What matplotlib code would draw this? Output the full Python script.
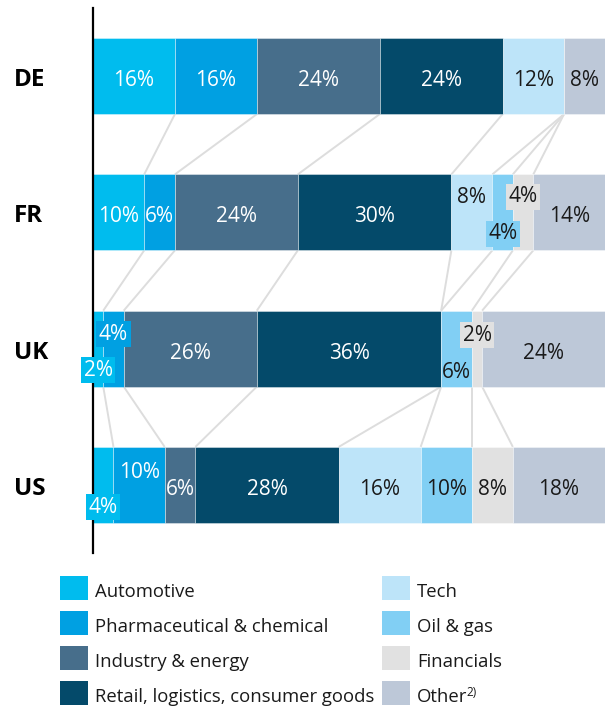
import numpy as np
import matplotlib.pyplot as plt
from matplotlib.patches import Rectangle
from matplotlib.transforms import blended_transform_factory

plt.rcParams['font.family'] = ['Open Sans', 'DejaVu Sans']

countries = ['DE', 'FR', 'UK', 'US']
sectors = ['Automotive', 'Pharmaceutical & chemical', 'Industry & energy',
           'Retail, logistics, consumer goods', 'Tech', 'Oil & gas',
           'Financials', 'Other']
de = [16, 16, 24, 24, 12, 0, 0, 8]
fr = [10, 6, 24, 30, 8, 4, 4, 14]
uk = [2, 4, 26, 36, 0, 6, 2, 24]
us = [4, 10, 6, 28, 16, 10, 8, 18]
shares = np.array([de, fr, uk, us])

colors = ['#00BCEE', '#00A0E2', '#476E8B', '#044A6A',
          '#BDE4F9', '#81CFF4', '#E1E1E1', '#BDC8D8']
txt_colors = ['white'] * 4 + ['#1a1a1a'] * 4

# small segments: label shifted up/down (pixels), some with a box
nudge = {('FR', 4): -19, ('FR', 6): -20, ('FR', 5): 17,
         ('UK', 1): -19, ('UK', 0): 17, ('UK', 5): 19, ('UK', 6): -18,
         ('US', 1): -17, ('US', 0): 18}
boxed = {('FR', 5), ('FR', 6), ('UK', 0), ('UK', 1), ('UK', 6), ('US', 0)}

W, H = 605, 708
fig = plt.figure(figsize=(W / 100, H / 100), dpi=100)
ax = fig.add_axes([93 / W, 1 - 553 / H, 512 / W, 545 / H])
ax.set_xlim(0, 100)
ax.set_ylim(3.5, -0.5)
px = 1 / 136.25  # one pixel in y data units
bh = 76 * px

ypos = np.arange(len(countries))
cum = np.cumsum(shares, axis=1)
left = cum - shares

# connector lines between segment boundaries
for i in range(len(countries) - 1):
    for k in range(len(sectors) - 1):
        ax.plot([cum[i, k], cum[i + 1, k]],
                [ypos[i] + bh / 2, ypos[i + 1] - bh / 2],
                color='#DDDDDD', lw=1.4, zorder=1, solid_capstyle='butt')

for k, s in enumerate(sectors):
    ax.barh(ypos, shares[:, k], left=left[:, k], height=bh, color=colors[k],
            edgecolor=(1, 1, 1, 0.45), linewidth=0.6, zorder=2)

lab_tr = blended_transform_factory(fig.transFigure, ax.transData)
for i, c in enumerate(countries):
    for k in range(len(sectors)):
        v = shares[i, k]
        if v == 0:
            continue
        dy = (2.5 + 7.5 + nudge.get((c, k), 0)) * px
        kw = {}
        if (c, k) in boxed:
            kw['bbox'] = dict(boxstyle='square,pad=0.12', fc=colors[k], ec='none')
        ax.text(left[i, k] + v / 2, ypos[i] + dy, f'{v}%', ha='center',
                va='baseline', fontsize=15, color=txt_colors[k], zorder=4, **kw)
    ax.text(14 / W, ypos[i] + 10 * px, c, transform=lab_tr,
            ha='left', va='baseline', fontsize=17.5, fontweight='bold', color='black')

for sp in ['top', 'right', 'bottom']:
    ax.spines[sp].set_visible(False)
ax.spines['left'].set_linewidth(1.6)
ax.spines['left'].set_color('black')
ax.set_xticks([])
ax.set_yticks([])
ax.patch.set_alpha(0)

# legend
col_x = [60, 382]
txt_x = [95, 417]
row_top = [576, 611, 646, 681]
for k, s in enumerate(sectors):
    col, row = divmod(k, 4)
    fig.patches.append(Rectangle((col_x[col] / W, 1 - (row_top[row] + 24) / H),
                                 27.5 / W, 24 / H, transform=fig.transFigure,
                                 facecolor=colors[k], edgecolor='none'))
    t = fig.text(txt_x[col] / W, 1 - (row_top[row] + 21) / H, s,
                 ha='left', va='baseline', fontsize=13.3, color='#1a1a1a')
    if s == 'Other':
        ax.annotate('2)', xy=(1, 0), xycoords=t, xytext=(-0.5, 5),
                    textcoords='offset points', ha='left', va='bottom',
                    fontsize=8.5, color='#1a1a1a', annotation_clip=False)

fig.savefig('out.png', dpi=100)
